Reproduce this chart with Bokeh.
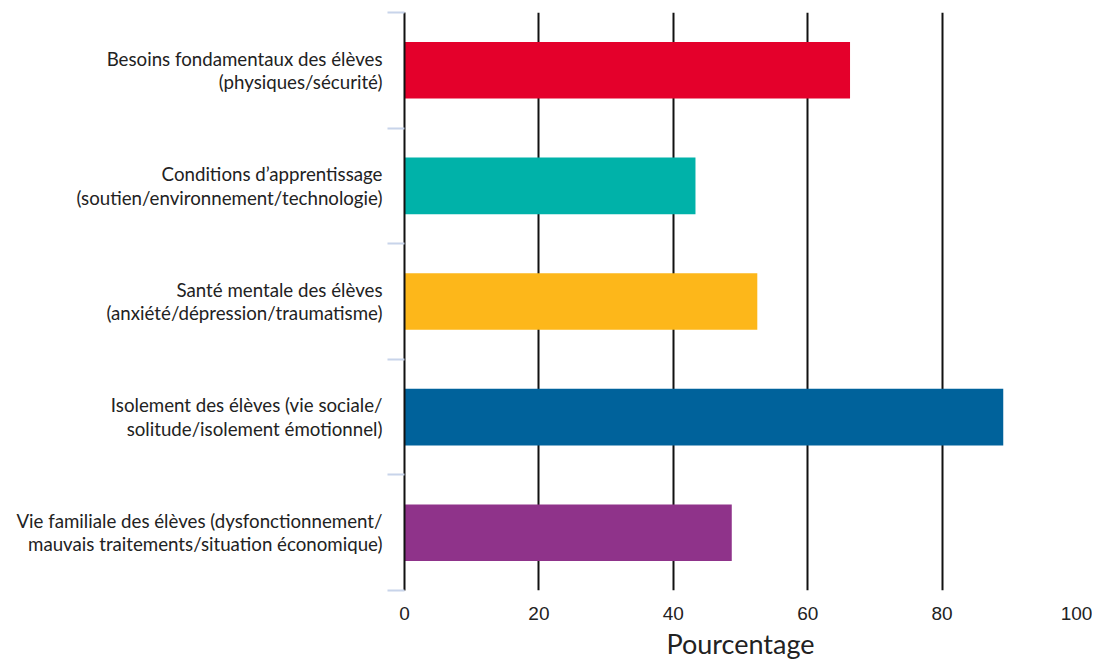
from bokeh.plotting import figure
from bokeh.models import FixedTicker, Range1d
from bokeh.embed import file_html
from bokeh.resources import INLINE

categories = [
    "Besoins fondamentaux des élèves\n(physiques/sécurité)",
    "Conditions d’apprentissage\n(soutien/environnement/technologie)",
    "Santé mentale des élèves\n(anxiété/dépression/traumatisme)",
    "Isolement des élèves (vie sociale/\nsolitude/isolement émotionnel)",
    "Vie familiale des élèves (dysfonctionnement/\nmauvais traitements/situation économique)",
]
values = [66.3, 43.3, 52.5, 89.1, 48.7]
colors = ["#E4002B", "#00B2A9", "#FDB71A", "#00629B", "#8F338A"]
x_ticks = [0, 20, 40, 60, 80, 100]
grid_ticks = [0, 20, 40, 60, 80]

n = len(categories)
ys = [n - i - 0.5 for i in range(n)]
boundaries = list(range(n + 1))

p = figure(width=1092, height=662,
           x_range=Range1d(0, 100), y_range=Range1d(0, n),
           output_backend="svg", toolbar_location=None,
           min_border_left=404, min_border_right=16,
           min_border_top=12, min_border_bottom=0)

p.hbar(y=ys, left=0, right=values, height=0.49, fill_color=colors, line_color=None)

p.outline_line_color = None
p.background_fill_color = "white"
p.border_fill_color = "white"

p.ygrid.visible = False
p.xgrid.ticker = FixedTicker(ticks=grid_ticks)
p.xgrid.grid_line_color = "#111111"
p.xgrid.grid_line_width = 2

xa = p.xaxis[0]
xa.ticker = FixedTicker(ticks=x_ticks)
xa.axis_line_color = None
xa.major_tick_line_color = None
xa.minor_tick_line_color = None
xa.major_tick_out = 0
xa.major_tick_in = 0
xa.major_label_standoff = 16
xa.major_label_text_font = "Liberation Sans"
xa.major_label_text_font_size = "19px"
xa.major_label_text_color = "#222222"
xa.axis_label = "Pourcentage"
xa.axis_label_text_font = "Lato"
xa.axis_label_text_font_style = "normal"
xa.axis_label_text_font_size = "27px"
xa.axis_label_text_color = "#222222"
xa.axis_label_standoff = 4

ya = p.yaxis[0]
ya.ticker = FixedTicker(ticks=ys, minor_ticks=boundaries)
ya.major_label_overrides = {y: c for y, c in zip(ys, categories)}
ya.axis_line_color = "#111111"
ya.axis_line_width = 2
ya.major_tick_line_color = None
ya.major_tick_out = 0
ya.major_tick_in = 0
ya.minor_tick_out = 17
ya.minor_tick_in = 0
ya.minor_tick_line_color = "#C8D4EA"
ya.minor_tick_line_width = 2
ya.major_label_standoff = 5
ya.major_label_text_font = "Lato"
ya.major_label_text_font_size = "18.7px"
ya.major_label_text_color = "#222222"
ya.major_label_text_line_height = 1.07

open("out.html", "w").write(file_html(p, INLINE))
